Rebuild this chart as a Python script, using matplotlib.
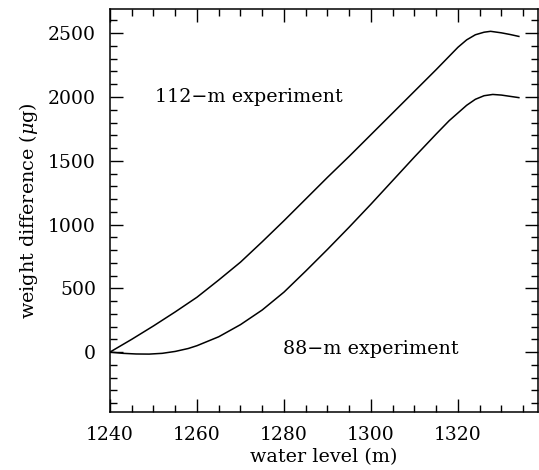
import numpy as np
import matplotlib.pyplot as plt
from matplotlib.ticker import MultipleLocator

# values
x_112 = [1240, 1245, 1250, 1255, 1260, 1265, 1270, 1275, 1280, 1285, 1290, 1295,
         1300, 1305, 1310, 1315, 1318, 1320, 1322, 1324, 1326, 1327.5, 1330, 1332, 1334]
y_112 = [0, 100, 205, 315, 430, 565, 705, 865, 1030, 1200, 1370, 1535,
         1705, 1875, 2045, 2215, 2320, 2390, 2448, 2488, 2508, 2515, 2503, 2490, 2475]

x_88 = [1240, 1243, 1246, 1249, 1252, 1255, 1258, 1260, 1265, 1270, 1275, 1280,
        1285, 1290, 1295, 1300, 1305, 1310, 1315, 1318, 1320, 1322, 1324, 1326, 1328,
        1330, 1332, 1334]
y_88 = [0, -10, -15, -16, -10, 5, 28, 50, 120, 215, 330, 470,
        635, 805, 980, 1160, 1345, 1530, 1710, 1815, 1875, 1935, 1982, 2010, 2020,
        2015, 2005, 1995]

plt.rcParams['font.family'] = 'DejaVu Serif'
plt.rcParams['mathtext.fontset'] = 'dejavuserif'

fig = plt.figure(figsize=(5.39, 4.70), dpi=100)
ax = fig.add_axes([110 / 539, 58 / 470, 428 / 539, 403 / 470])

ax.plot(x_112, y_112, color='black', lw=1.1)
ax.plot(x_88, y_88, color='black', lw=1.1)

ax.text(1250.3, 2000, '112\u2212m experiment', fontsize=13.8, va='center', ha='left')
ax.text(1279.8, 24, '88\u2212m experiment', fontsize=13.8, va='center', ha='left')

ax.set_xlim(1240, 1338.4)
ax.set_ylim(-470, 2690)

ax.xaxis.set_major_locator(MultipleLocator(20))
ax.xaxis.set_minor_locator(MultipleLocator(5))
ax.yaxis.set_major_locator(MultipleLocator(500))
ax.yaxis.set_minor_locator(MultipleLocator(100))

ax.tick_params(which='both', direction='in', top=True, right=True,
               width=1.0, labelsize=13.5, pad=10)
ax.tick_params(which='major', length=9.5)
ax.tick_params(which='minor', length=5)
for s in ax.spines.values():
    s.set_linewidth(1.1)

ax.set_xlabel('water level (m)', fontsize=13.8, labelpad=3)
ax.set_ylabel(r'weight difference ($\mu$g)', fontsize=13.8, labelpad=6)

fig.savefig('out.png', dpi=100)
